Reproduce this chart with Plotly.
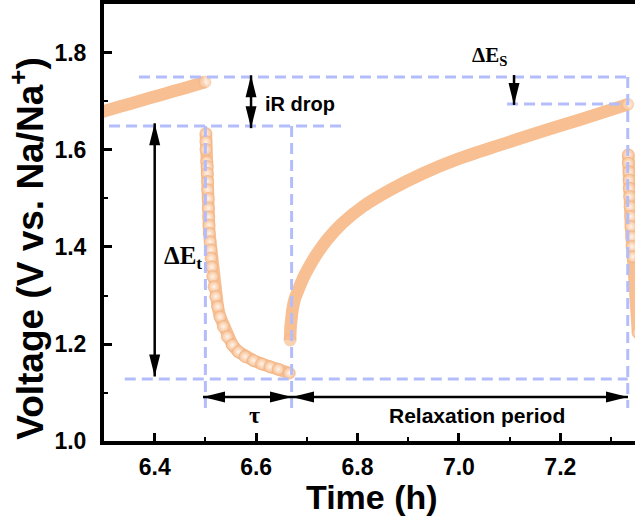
import plotly.graph_objects as go

# ---------------- data ----------------
t_charge = [6.29, 6.32, 6.35, 6.38, 6.41, 6.44, 6.47, 6.499]
v_charge = [1.677, 1.686, 1.695, 1.704, 1.713, 1.722, 1.731, 1.740]

t_pulse = [6.501, 6.501, 6.501, 6.5026, 6.5037, 6.5037, 6.5045, 6.5045, 6.5057, 6.5057,
           6.5065, 6.5071, 6.5077, 6.5091, 6.5105, 6.5110, 6.5124, 6.5144, 6.5170, 6.5203,
           6.5243, 6.5288, 6.5353, 6.5432, 6.5531, 6.5649, 6.5781, 6.5945, 6.6110, 6.6274,
           6.6438, 6.6655]
v_pulse = [1.634, 1.617, 1.601, 1.576, 1.566, 1.552, 1.535, 1.518, 1.500, 1.480,
           1.462, 1.445, 1.428, 1.411, 1.394, 1.377, 1.359, 1.339, 1.318, 1.298,
           1.277, 1.256, 1.236, 1.215, 1.198, 1.184, 1.174, 1.166, 1.159, 1.153,
           1.148, 1.140]

t_relax = [6.667, 6.668, 6.670, 6.672, 6.676, 6.683, 6.693, 6.705, 6.720, 6.740,
           6.770, 6.810, 6.865, 6.930, 7.000, 7.080, 7.160, 7.240, 7.333]
v_relax = [1.208, 1.235, 1.255, 1.272, 1.292, 1.311, 1.336, 1.360, 1.386, 1.415,
           1.449, 1.483, 1.518, 1.552, 1.582, 1.610, 1.637, 1.663, 1.694]

t_pulse2 = [7.3341, 7.3341, 7.3355, 7.3355, 7.3361, 7.3368, 7.3375, 7.3389, 7.3394,
            7.3408, 7.3414, 7.3428, 7.3533]
v_pulse2 = [1.590, 1.573, 1.555, 1.538, 1.521, 1.504, 1.483, 1.463, 1.442,
            1.421, 1.401, 1.380, 1.223]

# guide levels (dashed construction lines)
t_pulse_start, t_pulse_end, t_relax_end = 6.5, 6.670, 7.333
v_top, v_ir, v_min, v_relaxed = 1.7505, 1.6495, 1.128, 1.695

x_ticks = [6.4, 6.6, 6.8, 7.0, 7.2]
y_ticks = [1.0, 1.2, 1.4, 1.6, 1.8]

# ---------------- styles ----------------
PEACH = "#F7BF92"
EDGE = "#EEAE80"
HILITE = "#FFF4EA"
DASH = "#B4BDFB"
SANS = "Arial, Liberation Sans, sans-serif"
SERIF = "Times New Roman, Liberation Serif, serif"
LW = 12.5
MS = 12

fig = go.Figure()


def add_seg(t, v, sizes, gtypes, shape="linear"):
    fig.add_trace(go.Scatter(
        x=t, y=v, mode="lines+markers",
        line=dict(color=PEACH, width=LW, shape=shape, smoothing=0.8),
        marker=dict(size=sizes, color=PEACH, line=dict(color=EDGE, width=0.6),
                    gradient=dict(type=gtypes, color=HILITE)),
        showlegend=False, hoverinfo="skip"))


n1 = len(t_charge)
add_seg(t_charge, v_charge, [0] * (n1 - 1) + [MS], ["none"] * (n1 - 1) + ["radial"], "spline")
add_seg(t_pulse, v_pulse, MS, "radial")
n3 = len(t_relax)
add_seg(t_relax, v_relax, [MS] + [0] * (n3 - 2) + [MS], ["none"] * (n3 - 1) + ["radial"], "spline")
add_seg(t_pulse2, v_pulse2, MS, "radial")

shapes = []


def dline(x0, y0, x1, y1):
    shapes.append(dict(type="line", xref="x", yref="y", x0=x0, y0=y0, x1=x1, y1=y1,
                       line=dict(color=DASH, width=3, dash="11px,6px"), layer="above"))


dline(6.369, v_top, t_relax_end, v_top)
dline(6.31, v_ir, 6.779, v_ir)
dline(t_pulse_start, v_ir, t_pulse_start, 1.068)
dline(t_pulse_end, v_ir, t_pulse_end, 1.068)
dline(6.341, v_min, t_relax_end, v_min)
dline(t_relax_end, v_top, t_relax_end, 1.068)
dline(7.095, v_relaxed, t_relax_end, v_relaxed)

HL, HW = 22, 5.5
HEADS = {
    "left": f"M0,0 L{HL},{HW} L{HL},{-HW} Z",
    "right": f"M0,0 L{-HL},{HW} L{-HL},{-HW} Z",
    "up": f"M0,0 L{-HW},{-HL} L{HW},{-HL} Z",
    "down": f"M0,0 L{-HW},{HL} L{HW},{HL} Z",
}


def shaft(x0, y0, x1, y1):
    shapes.append(dict(type="line", xref="x", yref="y", x0=x0, y0=y0, x1=x1, y1=y1,
                       line=dict(color="black", width=2.5), layer="above"))


def head(x, y, d):
    shapes.append(dict(type="path", xref="x", yref="y", xsizemode="pixel", ysizemode="pixel",
                       xanchor=x, yanchor=y, path=HEADS[d], fillcolor="black",
                       line=dict(width=0), layer="above"))


# Delta E_t
shaft(6.4, 1.655, 6.4, 1.133); head(6.4, 1.655, "up"); head(6.4, 1.133, "down")
# iR drop
shaft(6.590, 1.754, 6.590, 1.645); head(6.590, 1.754, "up"); head(6.590, 1.645, "down")
# Delta E_s
shaft(7.1087, 1.7545, 7.1087, 1.693); head(7.1087, 1.693, "down")
# tau
y_arr = 1.0907
shaft(6.4953, y_arr, 6.6708, y_arr); head(6.4953, y_arr, "left"); head(6.6708, y_arr, "right")
# relaxation period
shaft(6.6708, y_arr, 7.3335, y_arr); head(6.6708, y_arr, "left"); head(7.3335, y_arr, "right")

annotations = [
    dict(x=6.6866, y=1.6948, text="<b>iR drop</b>", font=dict(family=SANS, size=20, color="black")),
    dict(x=6.4144, y=1.379, text="<b>ΔE<sub>t</sub></b>", xanchor="left",
         font=dict(family=SERIF, size=25, color="black")),
    dict(x=7.0219, y=1.793, text="<b>ΔE<sub>S</sub></b>", xanchor="left",
         font=dict(family=SERIF, size=21, color="black")),
    dict(x=6.5959, y=1.0536, text="<b>τ</b>", font=dict(family=SERIF, size=24, color="black")),
    dict(x=7.0357, y=1.0536, text="<b>Relaxation period</b>", font=dict(family=SANS, size=21, color="black")),
    dict(x=-0.143, y=0.44, xref="paper", yref="paper", textangle=-90,
         text="<b>Voltage (V vs. Na/Na<sup>+</sup>)</b>", font=dict(family=SANS, size=37, color="black")),
    dict(x=0.5047, y=-0.128, xref="paper", yref="paper",
         text="<b>Time (h)</b>", font=dict(family=SANS, size=34, color="black")),
]
for a in annotations:
    a.setdefault("xref", "x")
    a.setdefault("yref", "y")
    a.setdefault("xanchor", "center")
    a["yanchor"] = "middle"
    a["showarrow"] = False

axis_common = dict(showline=True, linecolor="black", linewidth=4, ticks="inside",
                   ticklen=8, tickwidth=3, tickcolor="black", showgrid=False, zeroline=False,
                   tickfont=dict(family=SANS, size=23, color="black"))

fig.update_layout(
    width=635, height=525,
    margin=dict(l=104, r=0, t=4, b=84),
    paper_bgcolor="white", plot_bgcolor="white",
    xaxis=dict(range=[6.3, 7.3473], tickvals=x_ticks, ticktext=[f"<b>{v:.1f}</b>" for v in x_ticks],
               mirror=True, ticklabelstandoff=2,
               minor=dict(ticks="inside", ticklen=4, tickwidth=2, tickcolor="black", dtick=0.1, tick0=6.3),
               **axis_common),
    yaxis=dict(range=[1.0, 1.901], tickvals=y_ticks, ticktext=[f"<b>{v:.1f}</b>" for v in y_ticks],
               ticklabelstandoff=9,
               minor=dict(ticks="inside", ticklen=4, tickwidth=2, tickcolor="black", dtick=0.1, tick0=1.0),
               **axis_common),
    shapes=shapes,
    annotations=annotations,
)

fig.write_html("out.html")
